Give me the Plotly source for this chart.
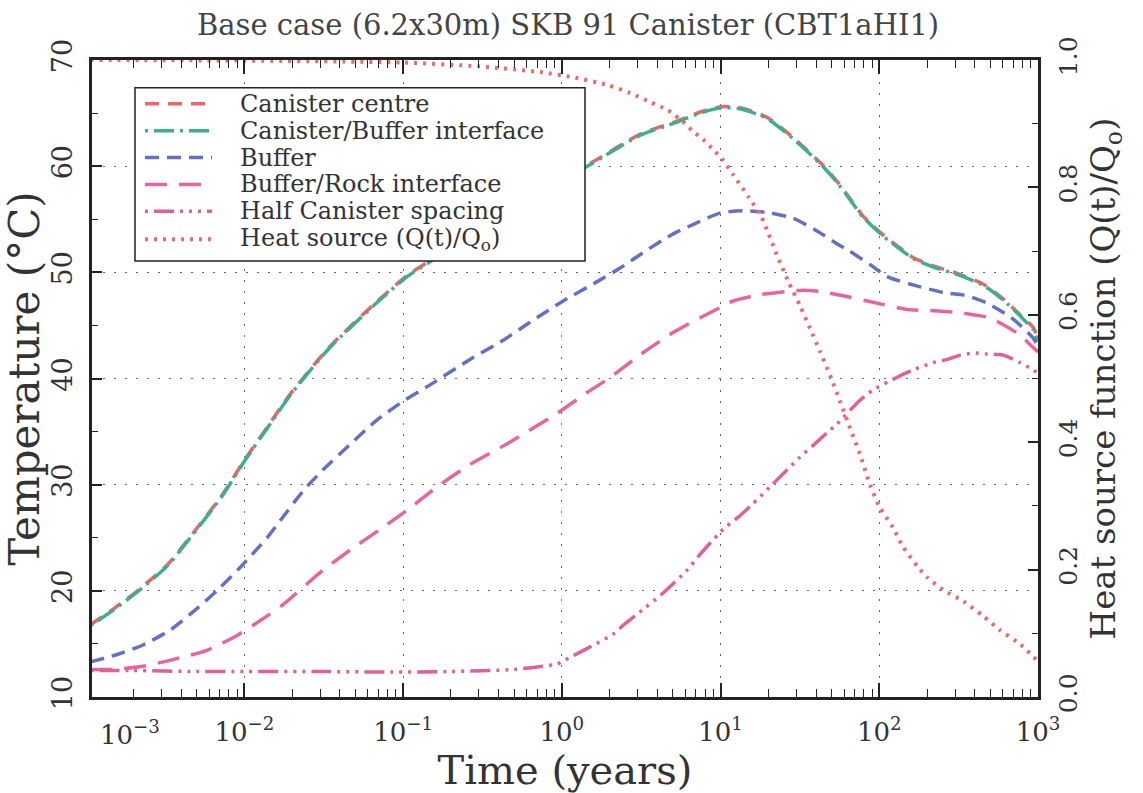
import plotly.graph_objects as go

# ---------------- data ----------------
t_cc = [1.07e-3, 1.5e-3, 2.2e-3, 3.3e-3, 4.4e-3, 7.3e-3, 1.0e-2, 1.39e-2, 1.94e-2, 3.4e-2,
        6.9e-2, 0.106, 0.141, 0.2, 0.3, 0.5, 1.0, 1.74, 3.1, 5.0, 7.8, 10.2, 13.3, 19.6,
        28.6, 44, 54, 65, 79, 106, 135, 163, 219, 309, 451, 603, 771, 933, 1000]
T_cc = [16.8, 18.3, 20.2, 22.5, 24.8, 29.1, 32.3, 35.4, 38.5, 42.9,
        47.3, 49.7, 50.9, 52.4, 54.1, 56.2, 58.7, 60.8, 63.0, 64.1, 65.2, 65.6, 65.5, 64.6,
        62.7, 60.1, 58.6, 57.0, 55.3, 53.5, 52.3, 51.4, 50.6, 49.9, 48.9, 47.5, 46.0, 44.8, 43.8]

t_cbi = [1.07e-3, 1.5e-3, 2.2e-3, 3.3e-3, 4.4e-3, 7.3e-3, 1.0e-2, 1.39e-2, 1.94e-2, 3.4e-2,
         6.9e-2, 0.106, 0.141, 0.2, 0.3, 0.5, 1.0, 1.74, 3.1, 5.0, 7.8, 10.2, 13.3, 19.6,
         28.6, 44, 54, 65, 79, 106, 135, 163, 219, 309, 451, 603, 771, 933, 1000]
T_cbi = [16.7, 18.2, 20.1, 22.4, 24.7, 29.0, 32.2, 35.3, 38.4, 42.8,
         47.2, 49.6, 50.8, 52.3, 54.0, 56.1, 58.6, 60.7, 62.9, 64.0, 65.1, 65.5, 65.4, 64.5,
         62.6, 60.0, 58.5, 56.9, 55.2, 53.4, 52.2, 51.3, 50.5, 49.8, 48.8, 47.4, 45.9, 44.6, 43.5]

t_buf = [1.07e-3, 1.58e-3, 2.3e-3, 3.4e-3, 5.0e-3, 6.8e-3, 9.4e-3, 0.0139, 0.0168, 0.0234,
         0.0313, 0.0464, 0.0686, 0.101, 0.148, 0.264, 0.427, 0.63, 1.02, 1.66, 2.33, 3.44,
         5.0, 6.7, 10, 14.7, 20.5, 28.6, 40.5, 54, 65, 88, 112, 174, 253, 357, 478, 697, 933, 1000]
T_buf = [13.3, 14.0, 14.9, 16.3, 18.3, 20.1, 22.2, 25.0, 26.6, 29.4,
         31.4, 33.8, 36.1, 37.9, 39.4, 41.8, 43.6, 45.3, 47.3, 49.1, 50.4, 52.1,
         53.6, 54.5, 55.6, 55.8, 55.6, 55.1, 53.9, 52.7, 52.0, 50.7, 49.6, 48.7, 48.1, 47.8, 47.1, 45.6, 43.8, 43.0]

t_br = [1.07e-3, 1.5e-3, 2.3e-3, 3.5e-3, 5.8e-3, 9.0e-3, 0.0126, 0.0175, 0.031, 0.046,
        0.075, 0.106, 0.164, 0.264, 0.47, 0.93, 1.45, 1.93, 3.3, 5.0, 7.4, 10, 12, 17.8,
        31.7, 42, 59, 84, 150, 209, 324, 390, 500, 771, 890, 1000]
T_br = [12.6, 12.6, 12.9, 13.5, 14.4, 15.8, 17.2, 18.7, 21.9, 23.8,
        26.0, 27.6, 29.8, 31.9, 34.0, 36.7, 38.7, 39.9, 42.5, 44.3, 45.7, 46.7, 47.3, 47.9,
        48.3, 48.2, 47.8, 47.3, 46.5, 46.4, 46.2, 46.0, 45.7, 44.1, 43.2, 42.5]

t_hc = [1.07e-3, 2e-3, 5e-3, 0.01, 0.03, 0.083, 0.2, 0.5, 0.93, 1.05, 1.5, 2.1, 2.5, 3.1,
        4.35, 6.2, 7.4, 10.4, 13.3, 16, 20.5, 26.3, 31.7, 38.3, 47, 54, 75, 91, 129, 163,
        219, 269, 324, 390, 478, 603, 771, 933, 1000]
T_hc = [12.5, 12.5, 12.4, 12.4, 12.4, 12.35, 12.4, 12.6, 13.1, 13.5, 14.7, 15.9, 16.9, 18.0,
        19.8, 22.0, 23.4, 25.8, 27.1, 28.2, 29.8, 31.4, 32.6, 33.7, 34.9, 35.7, 37.9, 38.9, 40.1, 40.8,
        41.5, 41.8, 42.2, 42.4, 42.3, 42.2, 41.5, 40.8, 40.5]

t_q = [1.07e-3, 0.01, 0.1, 0.3, 0.73, 1.17, 1.93, 2.7, 3.6, 4.6, 5.8, 6.7, 7.8, 9.0, 10.2,
       12, 15, 18, 20, 23, 27, 31.7, 36.7, 42.4, 49, 56.6, 65.5, 75.9, 87.5, 101, 122, 141,
       174, 200, 253, 340, 452, 575, 771, 980]
Q_q = [1.0, 0.999, 0.996, 0.99, 0.981, 0.973, 0.961, 0.948, 0.934, 0.922, 0.903, 0.888, 0.875, 0.859, 0.845,
       0.82, 0.785, 0.755, 0.728, 0.69, 0.65, 0.614, 0.578, 0.542, 0.505, 0.464, 0.422, 0.380, 0.333, 0.297, 0.266, 0.236,
       0.205, 0.188, 0.168, 0.150, 0.127, 0.105, 0.083, 0.058]

series_names = ["Canister centre", "Canister/Buffer interface", "Buffer",
                "Buffer/Rock interface", "Half Canister spacing",
                "Heat source (Q(t)/Q<sub>o</sub>)"]
x_tick_vals = [1e-2, 1e-1, 1e0, 1e1, 1e2, 1e3]
x_tick_text = ["10<sup>−2</sup>", "10<sup>−1</sup>", "10<sup>0</sup>", "10<sup>1</sup>",
               "10<sup>2</sup>", "10<sup>3</sup>"]
x_first_label = "10<sup>−3</sup>"
y_tick_vals = [10, 20, 30, 40, 50, 60, 70]
q_tick_vals = [0.0, 0.2, 0.4, 0.6, 0.8, 1.0]
q_tick_text = ["0.0", "0.2", "0.4", "0.6", "0.8", "1.0"]

# ---------------- styling ----------------
FONT = "DejaVu Serif"
TXT = "#333333"
AX = "#222222"
colors = ["#ee6464", "#3fae8c", "#6470c8", "#e8649e", "#e0609a", "#ee6a6a"]
dashes = ["14px,9px", "3px,6px,20px,6px", "14px,8px", "22px,12px",
          "3px,6px,20px,6px,3px,6px,3px,6px", "3px,6px"]
widths = [3.5, 3.5, 3.5, 3.5, 3.5, 4]

W, H = 1143, 793
L, R, T, B = 92, 1038, 60, 700

fig = go.Figure()
data = [(t_cc, T_cc), (t_cbi, T_cbi), (t_buf, T_buf), (t_br, T_br), (t_hc, T_hc)]
for i, (tx, ty) in enumerate(data):
    fig.add_trace(go.Scatter(x=tx, y=ty, mode="lines", name=series_names[i],
                             line=dict(color=colors[i], dash=dashes[i], width=widths[i], shape="spline", smoothing=0.6),
                             showlegend=False))
fig.add_trace(go.Scatter(x=t_q, y=Q_q, mode="lines", name=series_names[5], yaxis="y2",
                         line=dict(color=colors[5], dash=dashes[5], width=widths[5], shape="spline", smoothing=0.6),
                         showlegend=False))

minor_x = [m * 10.0 ** e for e in range(-3, 3) for m in range(2, 10)]

fig.update_layout(
    width=W, height=H,
    margin=dict(l=L, r=W - R, t=T, b=H - B),
    paper_bgcolor="white", plot_bgcolor="white",
    font=dict(family=FONT, color=TXT),
    title=dict(text="Base case (6.2x30m) SKB 91 Canister (CBT1aHI1)",
               x=0.497, xanchor="center", y=1 - 25 / H, yanchor="middle",
               font=dict(family=FONT, size=29, color="#444444")),
    xaxis=dict(type="log", range=[-2.96, 3.0],
               tickmode="array", tickvals=x_tick_vals, ticktext=x_tick_text,
               ticks="inside", ticklen=14, tickwidth=1.5, tickcolor=AX,
               ticklabelstandoff=10,
               showline=True, linewidth=2.5, linecolor=AX, mirror="ticks",
               showgrid=True, gridcolor="#666666", griddash="2px,9px", gridwidth=1.3,
               zeroline=False,
               minor=dict(tickmode="array", tickvals=minor_x, ticks="inside", ticklen=8,
                          tickwidth=1.3, tickcolor=AX, showgrid=False),
               tickfont=dict(family=FONT, size=26, color=TXT),
               title=dict(text="Time (years)", font=dict(family=FONT, size=40, color=TXT), standoff=6)),
    yaxis=dict(range=[10, 70], tickmode="array", tickvals=y_tick_vals,
               ticks="inside", ticklen=10, tickwidth=1.5, tickcolor=AX,
               tickangle=-90, ticklabelstandoff=6,
               showline=True, linewidth=2.5, linecolor=AX, mirror=False,
               showgrid=True, gridcolor="#666666", griddash="2px,9px", gridwidth=1.3,
               zeroline=False,
               minor=dict(dtick=5, ticks="inside", ticklen=6, tickwidth=1.3, tickcolor=AX, showgrid=False),
               tickfont=dict(family=FONT, size=27, color=TXT),
               title=dict(text="Temperature (°C)", font=dict(family=FONT, size=42, color=TXT), standoff=6)),
    yaxis2=dict(range=[0, 1], overlaying="y", side="right", anchor="x",
                tickmode="array", tickvals=q_tick_vals, ticktext=q_tick_text,
                ticks="inside", ticklen=10, tickwidth=1.5, tickcolor=AX,
                tickangle=-90, ticklabelstandoff=6,
                showline=True, linewidth=2.5, linecolor=AX,
                showgrid=False, zeroline=False,
                minor=dict(dtick=0.1, ticks="inside", ticklen=6, tickwidth=1.3, tickcolor=AX, showgrid=False),
                tickfont=dict(family=FONT, size=25, color=TXT),
                title=dict(text="Heat source function (Q(t)/Q<sub>o</sub>)",
                           font=dict(family=FONT, size=34, color=TXT), standoff=10)),
    showlegend=False,
)

def px_x(p):
    return (p - L) / (R - L)

def px_y(p):
    return (B - p) / (B - T)

# first decade label (drawn left-shifted in the original, as the decade lies at the frame edge)
fig.add_annotation(text=x_first_label, xref="paper", yref="paper",
                   x=px_x(130), y=px_y(736), xanchor="center", yanchor="middle",
                   showarrow=False, font=dict(family=FONT, size=26, color=TXT))

# legend box (drawn by hand so the row spacing matches the original)
shapes = [dict(type="rect", xref="paper", yref="paper", layer="above",
               x0=px_x(135), x1=px_x(585), y0=px_y(262), y1=px_y(88),
               line=dict(color=AX, width=1.5), fillcolor="white")]
row_y = [104, 131, 158, 185, 212, 240]
for i, name in enumerate(series_names):
    shapes.append(dict(type="line", xref="paper", yref="paper", layer="above",
                       x0=px_x(145), x1=px_x(212), y0=px_y(row_y[i]), y1=px_y(row_y[i]),
                       line=dict(color=colors[i], dash=dashes[i], width=widths[i])))
    fig.add_annotation(text=name, xref="paper", yref="paper",
                       x=px_x(238), y=px_y(row_y[i]), xanchor="left", yanchor="middle",
                       showarrow=False, font=dict(family=FONT, size=24, color=TXT))
fig.update_layout(shapes=shapes)

fig.write_html("out.html")
